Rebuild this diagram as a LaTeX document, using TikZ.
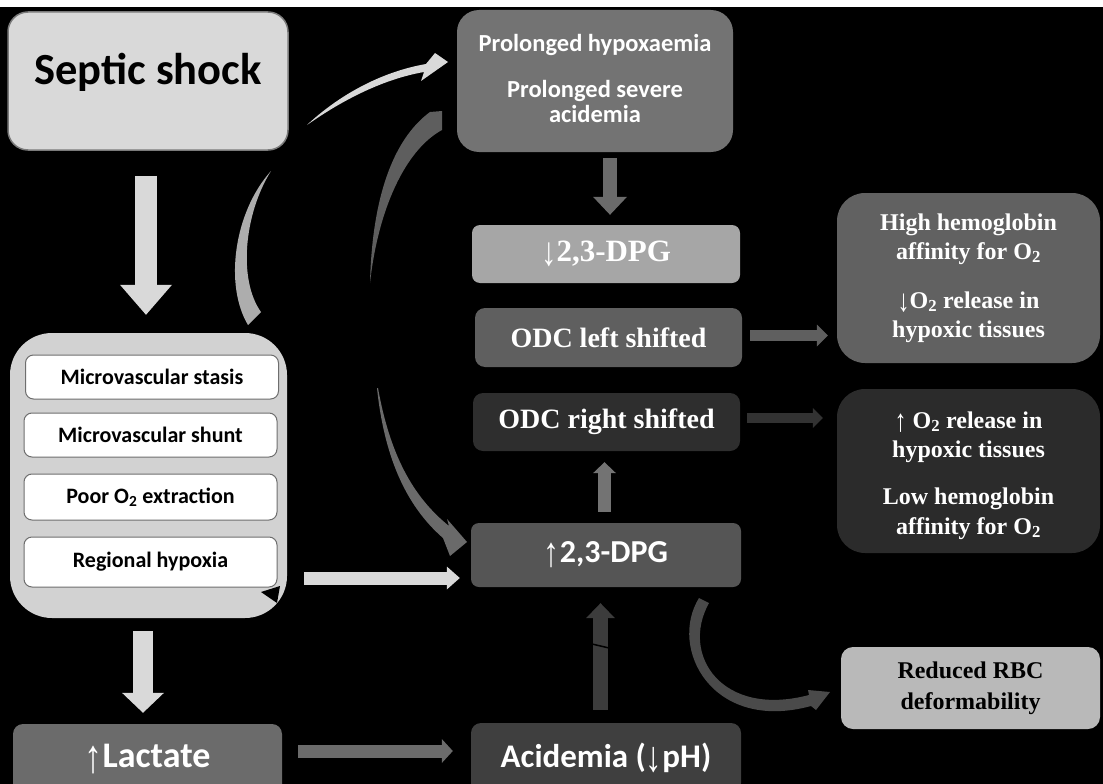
\documentclass[tikz,border=0pt]{standalone}
\usepackage{fontspec}
\setmainfont{Liberation Serif}
\newfontfamily\carl{Carlito}
\newfontfamily\arrf{Liberation Serif}
\usetikzlibrary{arrows.meta}
\newcommand\uarr{\raisebox{-0.12em}{\scalebox{1}[1.3]{\arrf\mdseries ↑}}}
\newcommand\darr{\raisebox{-0.12em}{\scalebox{1}[1.3]{\arrf\mdseries ↓}}}
\definecolor{septicfill}{HTML}{D9D9D9}
\definecolor{septicline}{HTML}{7A7A7A}
\definecolor{contfill}{HTML}{D2D2D2}
\definecolor{mline}{HTML}{6E6E6E}
\definecolor{lactfill}{HTML}{6B6B6B}
\definecolor{acidfill}{HTML}{3F3F3F}
\definecolor{acidarr}{HTML}{3C3C3C}
\definecolor{uparr}{HTML}{737373}
\definecolor{lowarr}{HTML}{323232}
\definecolor{dpgupfill}{HTML}{555555}
\definecolor{odcrfill}{HTML}{2E2E2E}
\definecolor{odclfill}{HTML}{5F5F5F}
\definecolor{dpgdnfill}{HTML}{A6A6A6}
\definecolor{prolfill}{HTML}{737373}
\definecolor{highfill}{HTML}{616161}
\definecolor{lowfill}{HTML}{2B2B2B}
\definecolor{rbcfill}{HTML}{B9B9B9}
\definecolor{lightarr}{HTML}{D9D9D9}
\definecolor{lightarrb}{HTML}{ADADAD}
\definecolor{grayarr}{HTML}{6A6A6A}
\definecolor{grayarrb}{HTML}{5E5E5E}
\definecolor{darkarr}{HTML}{4A4A4A}
\tikzset{
  rbox/.style={rounded corners=#1, inner sep=0pt, align=center},
  mbox/.style={rbox=8pt, fill=white, draw=mline, line width=1pt, minimum width=253pt,
    font=\carl\bfseries\fontsize{22}{26}\selectfont, text=black},
  sanstxt/.style args={#1/#2}{font=\carl\bfseries\fontsize{#1}{#2}\selectfont, text=white},
  seriftxt/.style args={#1/#2}{font=\bfseries\fontsize{#1}{#2}\selectfont, text=white},
  blk/.style args={#1/#2/#3}{line width=#1, -{Triangle[width=#2,length=#3,line width=0pt]}}
}
\begin{document}
\begin{tikzpicture}[x=1pt,y=-1pt]
\useasboundingbox (0,0) rectangle (1103,784);
\fill[white] (0,0) rectangle (1103,784);
\fill[black] (0,7) rectangle (1103,784);
\clip (0,0) rectangle (1103,784);

% left column
\node[rbox=20pt, fill=septicfill, draw=septicline, line width=1.5pt, minimum width=280pt, minimum height=138pt] (septic) at (148,81) {};
\node[font=\carl\bfseries\fontsize{44.5}{50}\selectfont, text=black] (septictxt) at (148,72) {Septic shock};

\node[rbox=42pt, fill=contfill, minimum width=277pt, minimum height=285pt] (cont) at (148.5,475.5) {};
\node[mbox, minimum height=44pt] (m1) at (152,377) {Microvascular stasis};
\node[mbox, minimum height=44pt] (m2) at (150.5,435) {Microvascular shunt};
\node[mbox, minimum height=46pt] (m3) at (150.5,497) {Poor O\textsubscript{2} extraction};
\node[mbox, minimum height=50pt] (m4) at (150.5,562) {Regional hypoxia};
\fill[black] (261,592) -- (280,586) -- (277,603) -- cycle;

\node[rbox=10pt, fill=lactfill, minimum width=269pt, minimum height=70pt, sanstxt=36/40] (lact) at (147.5,759) {\uarr Lactate};

% middle column
\node[rbox=22pt, fill=prolfill, minimum width=276pt, minimum height=142pt] (prol) at (595,81) {};
\node[sanstxt=24.5/25.5, align=center] (proltxt) at (595,78.5)
  {Prolonged hypoxaemia\\[20.5pt]Prolonged severe\\acidemia};
\node[rbox=8pt, fill=dpgdnfill, minimum width=268pt, minimum height=58pt, seriftxt=31/34] (dpgdn) at (606,254) {\darr2,3-DPG};
\node[rbox=10pt, fill=odclfill, minimum width=267pt, minimum height=59pt, seriftxt=28/32] (odcl) at (608.5,337.5) {ODC left shifted};
\node[rbox=10pt, fill=odcrfill, minimum width=267pt, minimum height=58pt, seriftxt=28/32] (odcr) at (606.5,422) {ODC right shifted};
\node[rbox=8pt, fill=dpgupfill, minimum width=270pt, minimum height=64pt, sanstxt=32/36] (dpgup) at (606,555) {\uarr2,3-DPG};
\node[rbox=10pt, fill=acidfill, minimum width=270pt, minimum height=70pt, sanstxt=33/37] (acid) at (606,758) {Acidemia (\darr pH)};

% right column
\node[rbox=28pt, fill=highfill, minimum width=263pt, minimum height=170pt, seriftxt=24/29] (high) at (968.5,278)
  {High hemoglobin\\affinity for O\textsubscript{2}\\[20pt]\darr O\textsubscript{2} release in\\hypoxic tissues};
\node[rbox=28pt, fill=lowfill, minimum width=263pt, minimum height=164pt] (low) at (968.5,471) {};
\node[seriftxt=24/29.5, align=center] (lowtxt) at (968.5,475.5)
  {\uarr\ O\textsubscript{2} release in\\hypoxic tissues\\[17.5pt]Low hemoglobin\\affinity for O\textsubscript{2}};
\node[rbox=12pt, fill=rbcfill, minimum width=259pt, minimum height=82pt, font=\bfseries\fontsize{24}{31}\selectfont, text=black] (rbc) at (970.5,688)
  {Reduced RBC\\deformability};

% straight block arrows
\draw[blk=22pt/52pt/30pt, color=lightarr] ([xshift=-2pt,yshift=-25pt]septic.south) -- ([xshift=-2.5pt,yshift=18pt]cont.north);
\draw[blk=20pt/42pt/20pt, color=lightarr] ([xshift=-5.5pt,yshift=-13pt]cont.south) -- ([xshift=-4.5pt,yshift=11pt]lact.north);
\draw[blk=13pt/24pt/11pt, color=lactfill] ([xshift=16pt,yshift=8pt]lact.east) -- ([xshift=-18pt,yshift=7pt]acid.west);
\draw[blk=13pt/23pt/13pt, color=lightarr] ([xshift=17pt,yshift=-102.5pt]cont.east) -- ([xshift=-11pt,yshift=-23pt]dpgup.west);
\draw[blk=15pt/29pt/15pt, color=acidarr] ([xshift=-5.5pt,yshift=13pt]acid.north) -- ([xshift=-5.5pt,yshift=-16pt]dpgup.south);
\draw[blk=13pt/23pt/11pt, color=uparr] ([xshift=-1.5pt,yshift=11pt]dpgup.north) -- ([xshift=-2pt,yshift=-11pt]odcr.south);
\draw[blk=14pt/34pt/18pt, color=lactfill] ([xshift=15pt,yshift=-6pt]prol.south) -- ([xshift=4pt,yshift=10pt]dpgdn.north);
\draw[blk=11pt/22pt/11pt, color=odclfill] ([xshift=8pt,yshift=2pt]odcl.east) -- ([xshift=-9pt,yshift=-57.5pt]high.west);
\draw[blk=10pt/20pt/10pt, color=lowarr] ([xshift=7pt,yshift=4pt]odcr.east) -- ([xshift=-14pt,yshift=53pt]low.west);
\draw[black, line width=1.5pt] (592,644) -- (609,648);

% tapered curved arrows
% light: container -> prolonged (two pieces)
\fill[lightarrb] (248,325) .. controls (224,285) and (234,212) .. (271,171)
  .. controls (244,214) and (238,280) .. (261,312) -- cycle;
\fill[lightarr] (307,125) .. controls (338,96) and (380,72) .. (426,64)
  -- (435,53) -- (448,62) -- (421,81) -- (424,72)
  .. controls (384,79) and (344,99) .. (307,125) -- cycle;
% gray: prolonged -> up-2,3-DPG (two pieces)
\fill[grayarrb] (430,112) -- (442,111) -- (442,130)
  .. controls (405,150) and (378,210) .. (370,283)
  .. controls (372,200) and (392,140) .. (430,112) -- cycle;
\fill[grayarr] (377,388) .. controls (384,455) and (405,505) .. (443,538)
  -- (450,556) -- (467,542) -- (447,519) -- (449,526)
  .. controls (413,497) and (390,455) .. (378,388) -- cycle;
% dark: up-2,3-DPG -> reduced RBC
\fill[darkarr] (699,598) .. controls (668,648) and (712,733) .. (811,706)
  -- (816,710) -- (830,692) -- (808,690) -- (809,695)
  .. controls (722,718) and (680,655) .. (709,603) -- cycle;
\end{tikzpicture}
\end{document}
